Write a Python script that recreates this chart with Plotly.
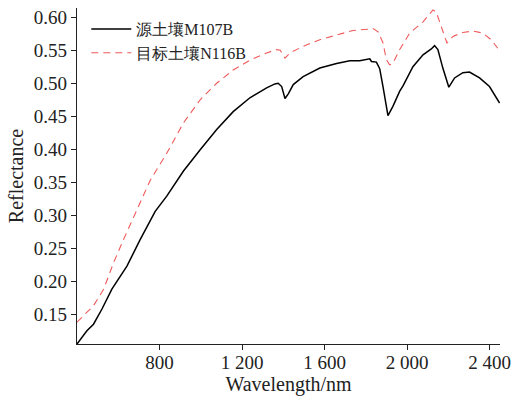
import plotly.graph_objects as go

# Source soil M107B (black solid)
src_wl = [400, 448, 480, 521, 569, 642, 706, 779, 835, 891, 916, 996, 1077, 1157, 1238,
          1319, 1359, 1375, 1392, 1408, 1424, 1448, 1496, 1577, 1658, 1722, 1770, 1819,
          1827, 1851, 1867, 1883, 1891, 1907, 1931, 1964, 1980, 2028, 2077, 2117, 2133,
          2149, 2173, 2202, 2230, 2270, 2302, 2351, 2399, 2448]
src_val = [0.105, 0.125, 0.135, 0.158, 0.188, 0.223, 0.263, 0.306, 0.329, 0.354, 0.367,
           0.399, 0.430, 0.457, 0.478, 0.493, 0.499, 0.500, 0.495, 0.477, 0.484, 0.498,
           0.510, 0.523, 0.530, 0.534, 0.534, 0.537, 0.533, 0.532, 0.522, 0.495, 0.478,
           0.451, 0.465, 0.488, 0.496, 0.525, 0.543, 0.552, 0.557, 0.551, 0.523, 0.494,
           0.508, 0.516, 0.517, 0.508, 0.495, 0.470]

# Target soil N116B (red dashed)
tgt_wl = [400, 448, 480, 529, 577, 625, 690, 755, 835, 916, 997, 1077, 1157, 1238, 1319,
          1367, 1385, 1408, 1432, 1496, 1577, 1658, 1738, 1819, 1835, 1859, 1883, 1899,
          1915, 1930, 1964, 2012, 2077, 2125, 2141, 2165, 2193, 2222, 2270, 2318, 2367,
          2407, 2439]
tgt_val = [0.138, 0.153, 0.163, 0.188, 0.228, 0.263, 0.309, 0.353, 0.394, 0.440, 0.475,
           0.500, 0.520, 0.535, 0.546, 0.551, 0.550, 0.538, 0.546, 0.556, 0.566, 0.573,
           0.580, 0.582, 0.583, 0.578, 0.561, 0.536, 0.528, 0.530, 0.551, 0.576, 0.593,
           0.611, 0.608, 0.586, 0.561, 0.571, 0.577, 0.579, 0.576, 0.566, 0.553]

series_names = ["源土壤M107B", "目标土壤N116B"]
x_tick_vals = [800, 1200, 1600, 2000, 2400]
x_tick_text = ["800", "1 200", "1 600", "2 000", "2 400"]
y_tick_vals = [0.15, 0.20, 0.25, 0.30, 0.35, 0.40, 0.45, 0.50, 0.55, 0.60]

FONT = "Liberation Serif"
TXT = "#222222"

fig = go.Figure()
fig.add_trace(go.Scatter(x=src_wl, y=src_val, mode="lines", name=series_names[0],
                         line=dict(color="black", width=1.5)))
fig.add_trace(go.Scatter(x=tgt_wl, y=tgt_val, mode="lines", name=series_names[1],
                         line=dict(color="#F05A5A", width=1.1, dash="7px,5px")))

fig.update_layout(
    width=512, height=397,
    margin=dict(l=77, r=12, t=8, b=53, autoexpand=False),
    paper_bgcolor="white", plot_bgcolor="white",
    font=dict(family=FONT, color=TXT, size=19),
    showlegend=True,
    legend=dict(x=0.022, y=0.988, xanchor="left", yanchor="top",
                bgcolor="rgba(0,0,0,0)", font=dict(size=16, family=FONT, color=TXT),
                tracegroupgap=0, itemwidth=40),
    xaxis=dict(range=[400, 2450], tickvals=x_tick_vals, ticktext=x_tick_text,
               automargin=False,
               showgrid=False, zeroline=False, showline=True, linecolor=TXT,
               linewidth=1.2, ticks="outside", ticklen=5, tickcolor=TXT,
               ticklabelstandoff=-4,
               tickfont=dict(size=19, family=FONT, color=TXT),
               title=dict(text="Wavelength/nm", font=dict(size=20, family=FONT, color=TXT),
                          standoff=2)),
    yaxis=dict(range=[0.105, 0.614], tickvals=y_tick_vals, tickformat=".2f",
               automargin=False,
               showgrid=False, zeroline=False, showline=True, linecolor=TXT,
               linewidth=1.2, ticks="outside", ticklen=5, tickcolor=TXT,
               tickfont=dict(size=19, family=FONT, color=TXT),
               title=dict(text="Reflectance", font=dict(size=20, family=FONT, color=TXT),
                          standoff=4)),
)

fig.write_html("out.html", config={"displayModeBar": False},
               post_script="document.body.style.margin='0';document.body.style.padding='0';")
